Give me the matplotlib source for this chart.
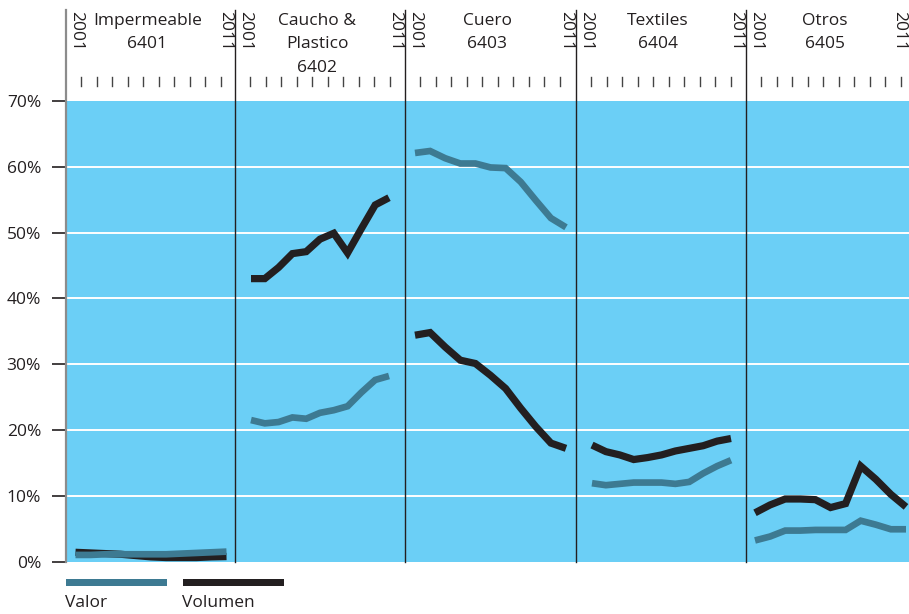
import matplotlib
matplotlib.use("Agg")
import matplotlib.pyplot as plt
from matplotlib.lines import Line2D
from matplotlib.patches import Rectangle

plt.rcParams["font.family"] = ["Open Sans", "DejaVu Sans"]

# ---- data -------------------------------------------------------------
years = list(range(2001, 2012))
panel_titles = ["Impermeable\n6401", "Caucho &\nPlastico\n6402", "Cuero\n6403",
                "Textiles\n6404", "Otros\n6405"]

valor = [
    [1.0, 1.0, 1.1, 1.1, 1.1, 1.1, 1.1, 1.2, 1.3, 1.4, 1.5],
    [21.5, 21.0, 21.2, 21.9, 21.7, 22.6, 23.0, 23.6, 25.7, 27.6, 28.2],
    [62.1, 62.4, 61.3, 60.5, 60.5, 59.9, 59.8, 57.7, 54.9, 52.2, 50.8],
    [11.9, 11.6, 11.8, 12.0, 12.0, 12.0, 11.8, 12.1, 13.4, 14.5, 15.4],
    [3.2, 3.8, 4.7, 4.7, 4.8, 4.8, 4.8, 6.2, 5.6, 4.9, 4.9],
]
volumen = [
    [1.4, 1.3, 1.2, 1.1, 0.9, 0.7, 0.6, 0.6, 0.6, 0.7, 0.75],
    [43.0, 43.0, 44.7, 46.8, 47.1, 49.0, 49.9, 46.9, 50.6, 54.2, 55.3],
    [34.4, 34.8, 32.6, 30.6, 30.1, 28.3, 26.3, 23.3, 20.5, 18.0, 17.2],
    [17.7, 16.7, 16.2, 15.5, 15.8, 16.2, 16.8, 17.2, 17.6, 18.3, 18.7],
    [7.4, 8.6, 9.5, 9.5, 9.4, 8.2, 8.8, 14.5, 12.5, 10.2, 8.3],
]
y_ticks = [0, 10, 20, 30, 40, 50, 60, 70]
y_ticklabels = ["0%", "10%", "20%", "30%", "40%", "50%", "60%", "70%"]
series_names = ["Valor", "Volumen"]

# ---- styling ----------------------------------------------------------
BG = "#6BCFF6"
TEAL = "#3D7A92"
DARK = "#231F20"
W, H = 909, 614

def fx(px):
    return px / W

def fy(py):
    return 1 - py / H

fig = plt.figure(figsize=(W / 100, H / 100), dpi=100)

edges = [66, 235, 405, 576, 746, 909]
# pixel offsets of the first and last year inside each panel
point_span = [(9.5, 160.5), (16, 154), (10, 161), (16, 155), (9, 160)]
top_px, bot_px = 101, 561.5

axes = []
for i in range(5):
    x0, x1 = edges[i], edges[i + 1]
    ax = fig.add_axes([fx(x0), fy(bot_px), (x1 - x0) / W, (bot_px - top_px) / H])
    ax.set_facecolor(BG)
    l, r = point_span[i]
    step = (r - l) / (len(years) - 1)
    ax.set_xlim(years[0] - l / step, years[-1] + ((x1 - x0) - r) / step)
    ax.set_ylim(0, 70)
    for g in y_ticks[1:-1]:
        ax.axhline(g, color="white", lw=1.4, zorder=1)
    ax.plot(years, volumen[i], color=DARK, lw=5.2, solid_joinstyle="miter",
            solid_capstyle="butt", zorder=3)
    ax.plot(years, valor[i], color=TEAL, lw=4.8, solid_joinstyle="miter",
            solid_capstyle="butt", zorder=4)
    for s in ax.spines.values():
        s.set_visible(False)
    ax.set_xticks([])
    if i == 0:
        ax.set_yticks(y_ticks)
        ax.set_yticklabels(y_ticklabels, fontsize=12.5, color=DARK)
        ax.tick_params(axis="y", length=10, width=1.2, color=DARK, pad=8)
    else:
        ax.set_yticks([])
    axes.append(ax)

    # header: years, title, tick row
    fig.text(fx(x0 + 10), fy(11), "2001", rotation=270, ha="center", va="top",
             fontsize=12.5, color=DARK)
    fig.text(fx(x1 - 10), fy(11), "2011", rotation=270, ha="center", va="top",
             fontsize=12.5, color=DARK)
    fig.text(fx((x0 + x1) / 2 - 3), fy(13), panel_titles[i], ha="center", va="top",
             fontsize=12.5, color=DARK, linespacing=1.62)
    for k in range(10):
        tx = x0 + 15 + k * 15.5
        fig.add_artist(Line2D([fx(tx), fx(tx)], [fy(77), fy(86)],
                              color="#444444", lw=1.0))

# panel separators
fig.add_artist(Line2D([fx(66), fx(66)], [fy(10), fy(bot_px)], color="#8C8C8C", lw=1.6))
for xe in edges[1:-1]:
    fig.add_artist(Line2D([fx(xe), fx(xe)], [fy(10), fy(bot_px)], color=DARK, lw=1.0))

# legend
for name, col, x0 in [(series_names[0], TEAL, 66), (series_names[1], DARK, 183)]:
    fig.add_artist(Rectangle((fx(x0), fy(586)), 101 / W, 7 / H,
                             facecolor=col, edgecolor="none"))
    fig.text(fx(x0 - 1), fy(603), name, ha="left", va="center", fontsize=12.5,
             color=DARK)

fig.savefig("out.png", dpi=100, facecolor="white")
